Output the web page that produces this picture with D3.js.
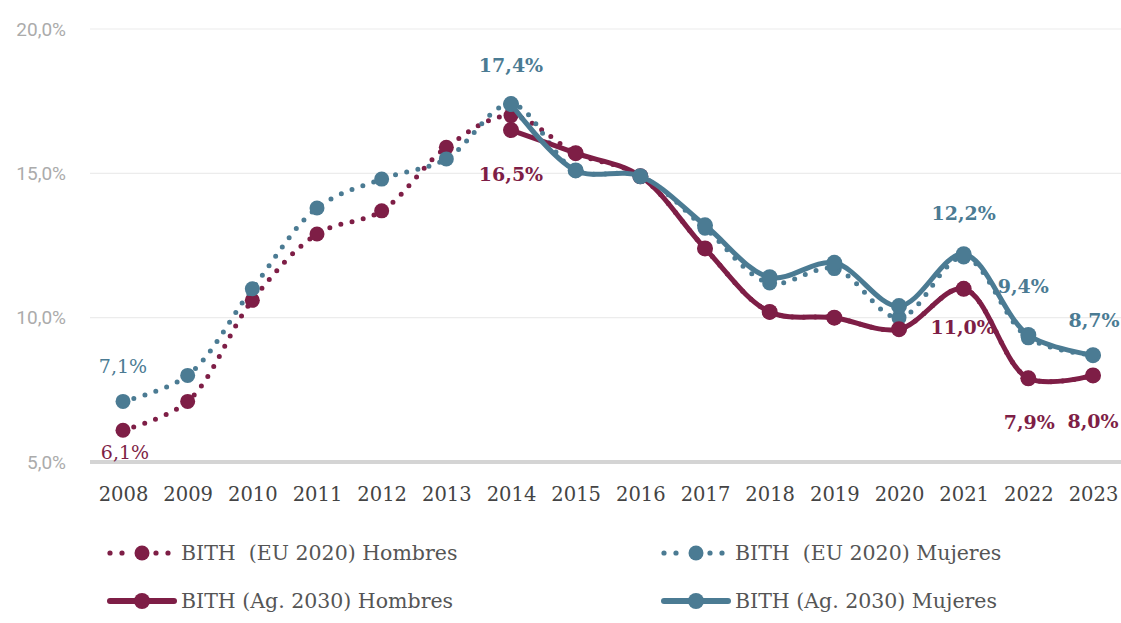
<!DOCTYPE html>
<html><head><meta charset="utf-8">
<script src="https://cdn.jsdelivr.net/npm/d3@7"></script>
<style>body{margin:0;background:#fff}svg{display:block}</style>
</head><body>
<svg id="c" width="1121" height="623"></svg>
<script>
const years = [2008,2009,2010,2011,2012,2013,2014,2015,2016,2017,2018,2019,2020,2021,2022,2023];
const euHombres = [6.1,7.1,10.6,12.9,13.7,15.9,17.0,15.7,14.9,12.4,10.2,10.0,9.6,11.0,7.9,8.0];
const euMujeres = [7.1,8.0,11.0,13.8,14.8,15.5,17.4,15.1,14.9,13.1,11.2,11.7,10.0,12.1,9.3,8.7];
const agYears = [2014,2015,2016,2017,2018,2019,2020,2021,2022,2023];
const agHombres = [16.5,15.7,14.9,12.4,10.2,10.0,9.6,11.0,7.9,8.0];
const agMujeres = [17.4,15.1,14.9,13.2,11.4,11.9,10.4,12.2,9.4,8.7];
const yTicks = [5,10,15,20];
const legendNames = ["BITH  (EU 2020) Hombres","BITH  (EU 2020) Mujeres","BITH (Ag. 2030) Hombres","BITH (Ag. 2030) Mujeres"];
const RED = "#7e1e46", BLUE = "#4b7b93";
const SERIF = "'DejaVu Serif', serif";

const svg = d3.select("#c");
const x = d3.scalePoint().domain(years).range([123,1093]);
const y = d3.scaleLinear().domain([5,20]).range([462,29]);
const fmt = v => d3.format(".1f")(v).replace(".", ",") + "%";

// grid
svg.append("g").selectAll("line").data(yTicks.filter(t=>t>5)).join("line")
  .attr("x1",90).attr("x2",1121).attr("y1",d=>y(d)).attr("y2",d=>y(d))
  .attr("stroke","#ececec").attr("stroke-width",1.2);
svg.append("line").attr("x1",90).attr("x2",1121).attr("y1",y(5)).attr("y2",y(5))
  .attr("stroke","#d4d4d4").attr("stroke-width",4);

// y axis labels
const yAxis = d3.axisLeft(y).tickValues(yTicks).tickSize(0).tickFormat(d=>d3.format(".1f")(d).replace(".",",")+"%");
const ya = svg.append("g").attr("transform","translate(69,0)").call(yAxis);
ya.select(".domain").remove();
ya.selectAll("text").attr("font-family","Roboto").attr("font-weight",400).attr("font-size",19).attr("fill","#ababab").attr("dx",0);

// x axis labels
const xAxis = d3.axisBottom(x).tickSize(0).tickFormat(d=>d);
const xa = svg.append("g").attr("transform","translate(0,484)").call(xAxis);
xa.select(".domain").remove();
xa.selectAll("text").attr("font-family",SERIF).attr("font-size",19.5).attr("fill","#444");

const line = d3.line().curve(d3.curveCatmullRom.alpha(0.5)).x(d=>x(d[0])).y(d=>y(d[1]));

function dotted(vals, color){
  const pts = years.map((yr,i)=>[yr,vals[i]]);
  svg.append("path").attr("d",line(pts)).attr("fill","none").attr("stroke",color)
    .attr("stroke-width",5).attr("stroke-linecap","round").attr("stroke-dasharray","0 11.5");
  svg.append("g").selectAll("circle").data(pts).join("circle")
    .attr("cx",d=>x(d[0])).attr("cy",d=>y(d[1])).attr("r",7.5).attr("fill",color);
}
function solid(yrs, vals, color){
  const pts = yrs.map((yr,i)=>[yr,vals[i]]);
  svg.append("path").attr("d",line(pts)).attr("fill","none").attr("stroke",color)
    .attr("stroke-width",5).attr("stroke-linejoin","round");
  svg.append("g").selectAll("circle").data(pts).join("circle")
    .attr("cx",d=>x(d[0])).attr("cy",d=>y(d[1])).attr("r",8).attr("fill",color);
}
dotted(euHombres, RED);
dotted(euMujeres, BLUE);
solid(agYears, agHombres, RED);
solid(agYears, agMujeres, BLUE);

// data labels
const labels = [
  {yr:2008, v:euMujeres[0], c:BLUE, dx:0, dy:-28, w:400},
  {yr:2008, v:euHombres[0], c:RED, dx:2, dy:29, w:400},
  {yr:2014, v:agMujeres[0], c:BLUE, dx:0, dy:-32, w:700},
  {yr:2014, v:agHombres[0], c:RED, dx:0, dy:51, w:700},
  {yr:2021, v:agMujeres[7], c:BLUE, dx:0, dy:-34, w:700},
  {yr:2021, v:agHombres[7], c:RED, dx:-1, dy:45, w:700},
  {yr:2022, v:agMujeres[8], c:BLUE, dx:-5, dy:-42, w:700},
  {yr:2022, v:agHombres[8], c:RED, dx:1, dy:51, w:700},
  {yr:2023, v:agMujeres[9], c:BLUE, dx:1, dy:-28, w:700},
  {yr:2023, v:agHombres[9], c:RED, dx:0, dy:53, w:700}
];
svg.append("g").selectAll("text").data(labels).join("text")
  .attr("x",d=>x(d.yr)+d.dx).attr("y",d=>y(d.v)+d.dy)
  .attr("text-anchor","middle").attr("font-family",SERIF).attr("font-size",19)
  .attr("font-weight",d=>d.w).attr("fill",d=>d.c).text(d=>fmt(d.v));

// legend
const legPos = [[110,553],[664,553],[110,601],[664,601]];
legendNames.forEach((name,i)=>{
  const [lx,ly] = legPos[i];
  const c = i%2===0 ? RED : BLUE;
  const g = svg.append("g");
  if(i<2){
    [0,12,46,58].forEach(o=>g.append("circle").attr("cx",lx+o).attr("cy",ly).attr("r",2.6).attr("fill",c));
    g.append("circle").attr("cx",lx+32).attr("cy",ly).attr("r",7.5).attr("fill",c);
  } else {
    g.append("line").attr("x1",lx).attr("x2",lx+64).attr("y1",ly).attr("y2",ly)
      .attr("stroke",c).attr("stroke-width",6).attr("stroke-linecap","round");
    g.append("circle").attr("cx",lx+32).attr("cy",ly).attr("r",8).attr("fill",c);
  }
  g.append("text").attr("x",lx+71).attr("y",ly+7).attr("font-family",SERIF)
    .attr("font-size",20.5).attr("fill","#555").style("white-space","pre").text(name);
});
</script>
</body></html>
